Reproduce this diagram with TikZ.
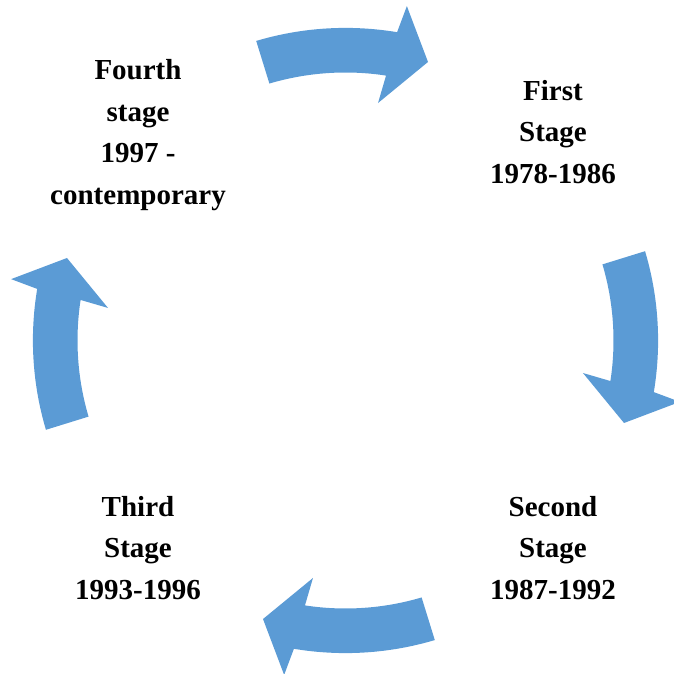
\documentclass[tikz,border=0pt]{standalone}
\usepackage{fontspec}
\setmainfont{Liberation Serif}
\tikzset{
  cyclearrow/.style={fill={rgb,255:red,91;green,155;blue,213}, draw=none},
  stagetext/.style={font=\bfseries\fontsize{29}{41.7}\selectfont, align=center, inner sep=0pt}
}
\newcommand{\cyclearrowpath}{%
  (106.6:312.6) arc[start angle=106.6, end angle=80.5, radius=312.6]
  -- (79.6:340) -- (73.5:290.5) -- (82.2:239.7) -- (81.3:268)
  arc[start angle=81.3, end angle=106.5, radius=268] -- cycle}
\begin{document}
\begin{tikzpicture}[x=1pt,y=1pt]
\useasboundingbox (0,0) rectangle (673,674);
\coordinate (C) at (345.5,333.5);
\foreach \r in {0,-90,-180,-270}{
  \begin{scope}[shift={(C)}, rotate=\r]
    \fill[cyclearrow] \cyclearrowpath;
  \end{scope}
}
\node[stagetext] (first) at (553,542) {First\\Stage\\1978-1986};
\node[stagetext] (second) at (553,126) {Second\\Stage\\1987-1992};
\node[stagetext] (third) at (138,126) {Third\\Stage\\1993-1996};
\node[stagetext] (fourth) at (138,539) {Fourth\\stage\\1997 -\\contemporary};
\end{tikzpicture}
\end{document}
